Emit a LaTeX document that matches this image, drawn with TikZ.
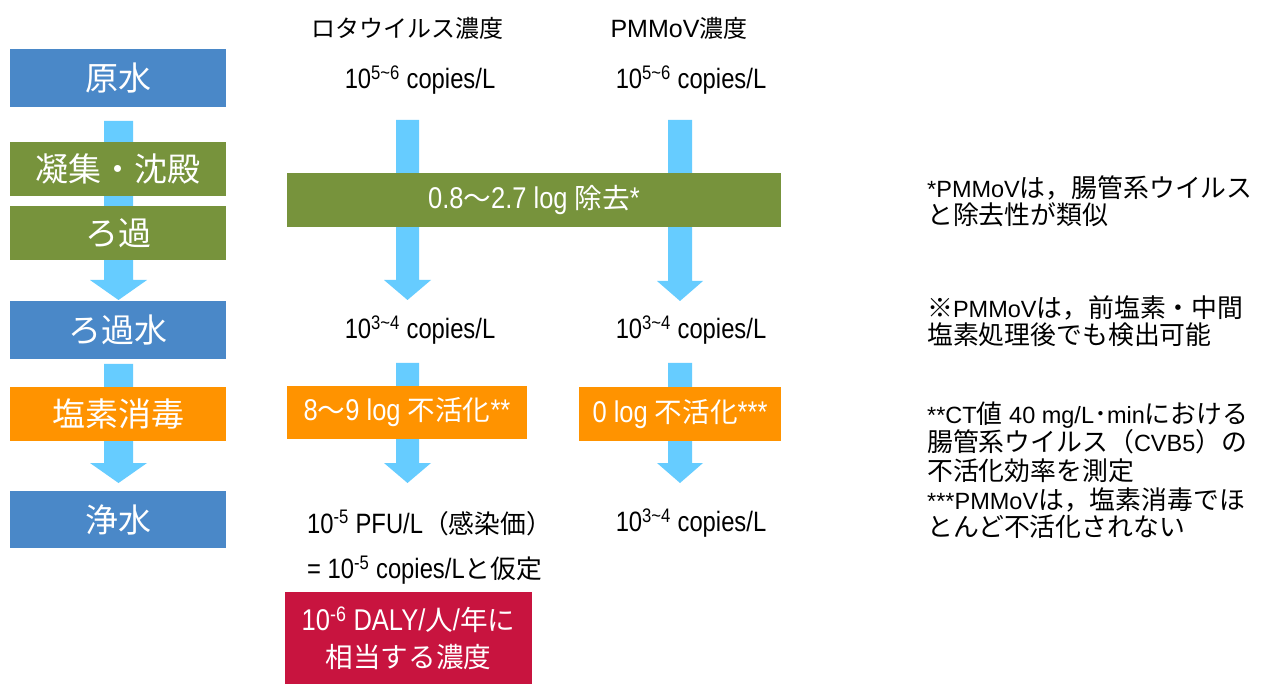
\documentclass[tikz,border=0pt]{standalone}
\usepackage{fontspec}
\setmainfont{Liberation Sans}
\newfontfamily\narrow{Liberation Sans}[FakeStretch=0.85]
\newfontfamily\jp{Noto Sans CJK JP}
\newfontfamily\jps{Noto Sans CJK JP}[Scale=0.92]
\newfontfamily\jpl{Noto Sans CJK JP}[Scale=1.1]
\usetikzlibrary{calc}
\definecolor{cblue}{HTML}{4A88C8}
\definecolor{cgreen}{HTML}{77933C}
\definecolor{corange}{HTML}{FF9300}
\definecolor{ccrimson}{HTML}{C8143F}
\definecolor{carrow}{HTML}{66CCFF}
\newcommand{\fsz}[2]{\fontsize{#1}{#2}\selectfont}
% block arrow: #1 start coord, #2 tip coord, #3 stem half width, #4 head half width
\newcommand{\blockarrow}[4]{%
  \fill[carrow] ($(#1)+(-#3,0)$) -- ($(#2)+(-#3,-20)$) -- ($(#2)+(-#4,-20)$) -- (#2)
    -- ($(#2)+(#4,-20)$) -- ($(#2)+(#3,-20)$) -- ($(#1)+(#3,0)$) -- cycle;}
\begin{document}
\begin{tikzpicture}[x=1pt,y=-1pt,
  stage/.style={inner sep=0pt, minimum width=216pt, text=white, font=\jp\fsz{33}{36}},
  band/.style={inner sep=0pt, text=white, font=\narrow\fsz{30}{33}},
  lbl/.style={inner sep=0pt, text=black, font=\narrow\fsz{28}{30}},
  head/.style={inner sep=0pt, text=black, font=\fsz{25}{28}},
  note/.style={inner sep=0pt, text=black, anchor=west, align=left, font=\fsz{23.5}{27}}]
\useasboundingbox[fill=white] (0,0) rectangle (1269,684);

% arrow coordinates
\coordinate (L1s) at (118.5,121); \coordinate (L1e) at (118.5,300);
\coordinate (L2s) at (118.5,364); \coordinate (L2e) at (118.5,483);
\coordinate (R1s) at (407.5,120); \coordinate (R1e) at (407.5,300);
\coordinate (R2s) at (407.5,363); \coordinate (R2e) at (407.5,483);
\coordinate (P1s) at (680,120);   \coordinate (P1e) at (680,301);
\coordinate (P2s) at (680,363);   \coordinate (P2e) at (680,483);

\blockarrow{L1s}{L1e}{14.5}{28.5}
\blockarrow{L2s}{L2e}{14.5}{28.5}
\blockarrow{R1s}{R1e}{11.5}{23.5}
\blockarrow{R2s}{R2e}{11.5}{23.5}
\blockarrow{P1s}{P1e}{12}{23}
\blockarrow{P2s}{P2e}{12}{23}

% left process column
\node[stage, fill=cblue, minimum height=58pt] (raw) at (118,78) {原水};
\node[stage, fill=cgreen, minimum height=54pt] (coag) at (118,169) {凝集・沈殿};
\node[stage, fill=cgreen, minimum height=54pt] (filt) at (118,233) {ろ過};
\node[stage, fill=cblue, minimum height=58pt] (filtw) at (118,330) {ろ過水};
\node[stage, fill=corange, minimum height=54pt] (chl) at (118,414) {塩素消毒};
\node[stage, fill=cblue, minimum height=57pt] (clean) at (118,519.5) {浄水};

% headers
\node[head] (hR) at (407.5,28) {\jp\fsz{24}{28}ロタウイルス濃度};
\node[head] (hP) at (679,28) {PMMoV{\jp\fsz{24}{28}濃度}};

\node[lbl] (cR1) at (420,80) {10\textsuperscript{5\textasciitilde 6} copies/L};
\node[lbl] (cP1) at (691,80) {10\textsuperscript{5\textasciitilde 6} copies/L};

% removal band
\node[band, fill=cgreen, minimum width=494pt, minimum height=54pt] (rem) at (534,200)
  {0.8{\jps ～}2.7 log {\jps 除去}*};

\node[lbl] (cR2) at (420,330) {10\textsuperscript{3\textasciitilde 4} copies/L};
\node[lbl] (cP2) at (691,330) {10\textsuperscript{3\textasciitilde 4} copies/L};

% inactivation boxes
\node[band, fill=corange, minimum width=240pt, minimum height=53pt] (inR) at (407,412.5)
  {8{\jps ～}9 log {\jps 不活化}**};
\node[band, fill=corange, minimum width=202pt, minimum height=54pt] (inP) at (680,414)
  {0 log {\jps 不活化}***};

% final concentrations
\node[lbl, anchor=west] (fR1) at (307,523) {10\textsuperscript{-5} PFU/L{\jps （感染価）}};
\node[lbl, anchor=west] (fR2) at (307,570) {= 10\textsuperscript{-5} copies/L{\jps と仮定}};
\node[lbl] (fP) at (691,523) {10\textsuperscript{3\textasciitilde 4} copies/L};

\node[band, fill=ccrimson, minimum width=247pt, minimum height=92pt, align=center,
  font=\narrow\fsz{30}{37}] (daly) at (408.5,638)
  {10\textsuperscript{-6} DALY/{\jps 人}/{\jps 年に}\\{\jps 相当する濃度}};

% notes
\node[note] (n1) at (927,201.5) {*PMMoV{\jpl は，腸管系ウイルス}\\{\jpl と除去性が類似}};
\node[note] (n2) at (927,321.5) {{\jpl ※}PMMoV{\jpl は，前塩素・中間}\\{\jpl 塩素処理後でも検出可能}};
\node[note, font=\fsz{23.5}{28.5}] (n3) at (927,442)
  {**CT{\jpl 値} 40 mg/L{\jpl ･}min{\jpl における}\\{\jpl 腸管系ウイルス（}CVB5{\jpl ）の}\\{\jpl 不活化効率を測定}};
\node[note] (n4) at (927,513.5) {***PMMoV{\jpl は，塩素消毒でほ}\\{\jpl とんど不活化されない}};
\end{tikzpicture}
\end{document}
